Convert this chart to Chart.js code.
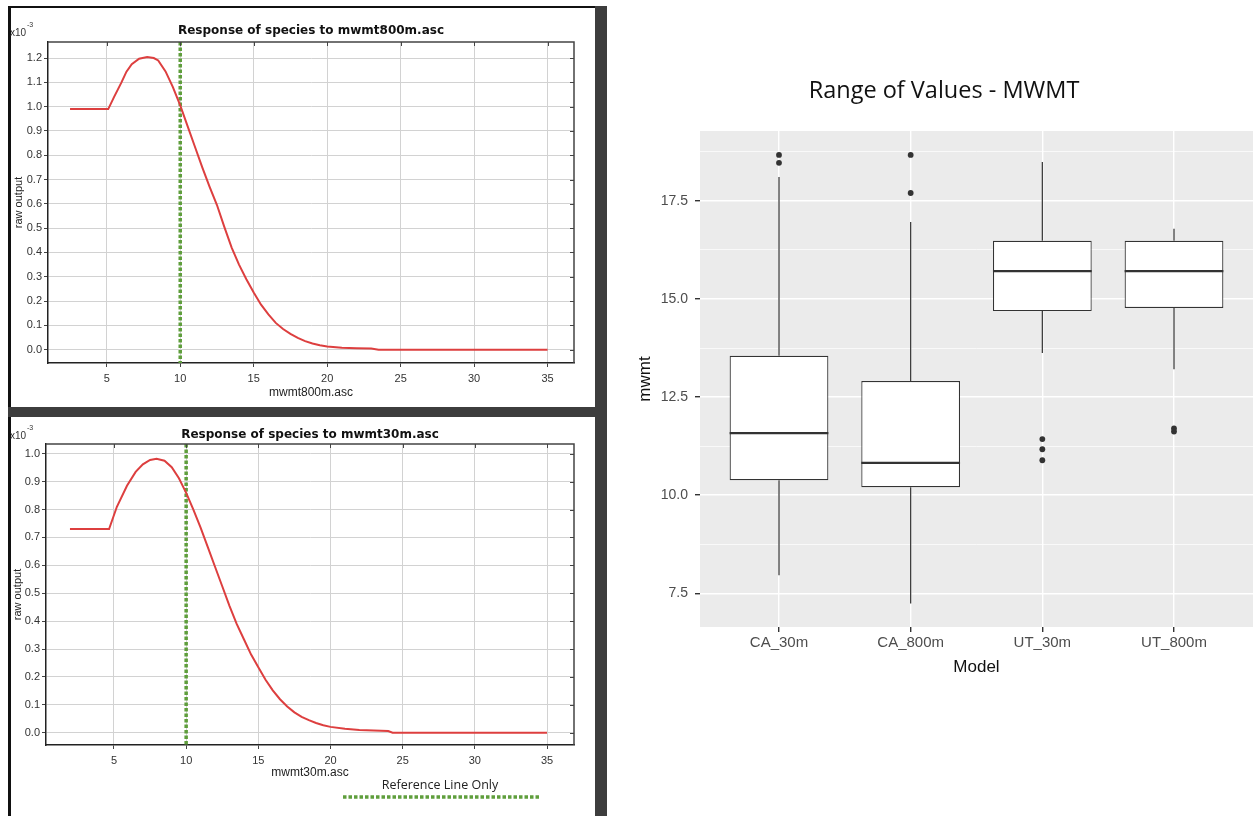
<!DOCTYPE html>
<html>
<head>
<meta charset="utf-8">
<script src="https://cdn.jsdelivr.net/npm/chart.js@4.4.0/dist/chart.umd.min.js"></script>
<style>
  body { margin: 0; width: 1257px; height: 816px; background: #fff; position: relative; overflow: hidden; font-family: "Liberation Sans", Arial, sans-serif; }
  canvas, .bar, .txt { position: absolute; }
  .bar { background: #3d3d3d; }
  .txt { color: #333; white-space: nowrap; line-height: 1; }
</style>
</head>
<body>
<div class="bar" style="left:8px;top:6px;width:588px;height:2px;background:#111"></div>
<div class="bar" style="left:8px;top:6px;width:2.5px;height:810px;background:#111"></div>
<div class="bar" style="left:8px;top:407px;width:588px;height:10px"></div>
<div class="bar" style="left:595px;top:6px;width:12px;height:810px"></div>

<canvas id="c800" width="585" height="398" style="left:10px;top:9px"></canvas>
<canvas id="c30" width="585" height="399" style="left:10px;top:417px"></canvas>
<canvas id="cbox" width="645" height="816" style="left:612px;top:0px"></canvas>

<span class="txt" style="left:10px;top:28px;font-size:10px">x10</span>
<span class="txt" style="left:27px;top:21px;font-size:7px">-3</span>
<span class="txt" style="left:10px;top:431px;font-size:10px">x10</span>
<span class="txt" style="left:27px;top:424px;font-size:7px">-3</span>

<script>
// ---- response curves (raw output, x10^-3) ----
const xTicks = [5, 10, 15, 20, 25, 30, 35];
const yTicks800 = [0, 0.1, 0.2, 0.3, 0.4, 0.5, 0.6, 0.7, 0.8, 0.9, 1.0, 1.1, 1.2];
const yTicks30 = [0, 0.1, 0.2, 0.3, 0.4, 0.5, 0.6, 0.7, 0.8, 0.9, 1.0];
const refLineX = 10;

const mwmt800X = [2.5, 5.1, 5.5, 6.0, 6.34, 6.7, 7.2, 7.75, 8.2, 8.5, 9.0, 9.5, 10, 10.5, 11, 11.5, 12, 12.5, 13, 13.5, 14, 14.5, 15, 15.5, 16, 16.5, 17, 17.5, 18, 18.5, 19, 19.5, 20, 21, 22, 23, 23.5, 35];
const mwmt800Y = [0.99, 0.99, 1.04, 1.10, 1.144, 1.175, 1.197, 1.204, 1.2, 1.19, 1.145, 1.08, 1.005, 0.92, 0.835, 0.75, 0.67, 0.595, 0.505, 0.42, 0.35, 0.29, 0.235, 0.185, 0.145, 0.11, 0.085, 0.065, 0.048, 0.035, 0.025, 0.018, 0.013, 0.008, 0.006, 0.005, 0.0, 0.0];

const mwmt30X = [1.95, 4.66, 5.2, 5.9, 6.5, 7.0, 7.5, 7.95, 8.5, 9.0, 9.5, 10, 10.5, 11, 11.5, 12, 12.5, 13, 13.5, 14, 14.5, 15, 15.5, 16, 16.5, 17, 17.5, 18, 18.5, 19, 19.5, 20, 21, 22, 23, 24, 24.3, 35];
const mwmt30Y = [0.73, 0.73, 0.81, 0.885, 0.935, 0.962, 0.978, 0.982, 0.975, 0.952, 0.912, 0.86, 0.80, 0.735, 0.665, 0.595, 0.525, 0.455, 0.39, 0.335, 0.28, 0.235, 0.19, 0.152, 0.12, 0.094, 0.073, 0.057, 0.045, 0.035, 0.027, 0.021, 0.014, 0.01, 0.008, 0.006, 0.0, 0.0];

// ---- boxplot of mwmt per model ----
const models = ['CA_30m', 'CA_800m', 'UT_30m', 'UT_800m'];
const boxQ1 = [10.38, 10.20, 14.69, 14.77];
const boxMedian = [11.58, 10.82, 15.71, 15.71];
const boxQ3 = [13.55, 12.91, 16.48, 16.48];
const whiskerLow = [7.96, 7.24, 13.62, 13.21];
const whiskerHigh = [18.11, 16.96, 18.49, 16.79];
const outliers = [[18.47, 18.67], [17.70, 18.67], [10.89, 11.17, 11.43], [11.62, 11.70]];
const boxMajorTicks = [7.5, 10, 12.5, 15, 17.5];
const boxMinorTicks = [8.75, 11.25, 13.75, 16.25, 18.75];

Chart.defaults.font.family = '"Liberation Sans", Arial, sans-serif';
Chart.defaults.animation = false;
Chart.defaults.events = [];

const GREEN = '#5f9e3c';

// reference line, top/right frame with inward ticks, optional legend
const framePlugin = {
  id: 'frame',
  beforeDatasetsDraw(chart, args, opts) {
    const a = chart.chartArea, ctx = chart.ctx;
    const x = chart.scales.x.getPixelForValue(opts.refX);
    ctx.save();
    ctx.strokeStyle = GREEN;
    ctx.lineWidth = 3.5;
    ctx.setLineDash([3.5, 2]);
    ctx.beginPath();
    ctx.moveTo(x, a.top);
    ctx.lineTo(x, a.bottom);
    ctx.stroke();
    ctx.restore();
  },
  afterDraw(chart, args, opts) {
    const a = chart.chartArea, ctx = chart.ctx;
    const sx = chart.scales.x, sy = chart.scales.y;
    ctx.save();
    ctx.strokeStyle = '#444';
    ctx.lineWidth = 1.5;
    ctx.beginPath();
    ctx.moveTo(a.left, a.top);
    ctx.lineTo(a.right, a.top);
    ctx.lineTo(a.right, a.bottom);
    ctx.stroke();
    ctx.lineWidth = 1;
    ctx.beginPath();
    sx.ticks.forEach(t => {
      const px = Math.round(sx.getPixelForValue(t.value)) + 0.5;
      ctx.moveTo(px, a.top);
      ctx.lineTo(px, a.top + 4);
    });
    sy.ticks.forEach(t => {
      const py = Math.round(sy.getPixelForValue(t.value)) + 0.5;
      ctx.moveTo(a.right, py);
      ctx.lineTo(a.right - 4, py);
    });
    ctx.stroke();
    if (opts.legendText) {
      ctx.fillStyle = '#222';
      ctx.font = '12.5px "Open Sans"';
      ctx.textAlign = 'center';
      ctx.textBaseline = 'middle';
      ctx.fillText(opts.legendText, 430, 368);
      ctx.strokeStyle = GREEN;
      ctx.lineWidth = 3.5;
      ctx.setLineDash([3.5, 2]);
      ctx.beginPath();
      ctx.moveTo(333, 380);
      ctx.lineTo(530, 380);
      ctx.stroke();
    }
    ctx.restore();
  }
};

function responseChart(id, title, xLabel, xs, ys, yTicks, lim, lay, legendText) {
  const pts = xs.map((x, i) => ({ x: x, y: ys[i] }));
  return new Chart(document.getElementById(id), {
    type: 'line',
    data: {
      datasets: [{
        data: pts,
        borderColor: '#dd3f3f',
        borderWidth: 2,
        pointRadius: 0,
        tension: 0
      }]
    },
    options: {
      responsive: false,
      layout: { padding: { left: 0, right: 21, top: 0, bottom: lay.bottom } },
      plugins: {
        legend: { display: false },
        tooltip: { enabled: false },
        title: {
          display: true, text: title, fullSize: false, color: '#111',
          font: { family: '"DejaVu Sans"', size: 12, weight: 'bold' },
          padding: lay.titlePad
        },
        frame: { refX: refLineX, legendText: legendText }
      },
      scales: {
        x: {
          type: 'linear', min: lim.xmin, max: lim.xmax,
          afterBuildTicks: s => { s.ticks = xTicks.map(v => ({ value: v })); },
          afterFit: s => { s.height = lay.xh; },
          grid: { color: '#d2d2d2', lineWidth: 1, tickLength: 4, tickColor: '#444' },
          border: { color: '#222', width: 1.5 },
          ticks: { color: '#333', font: { size: 11 }, padding: 5, maxRotation: 0, autoSkip: false },
          title: { display: true, text: xLabel, color: '#222', font: { size: 12 }, padding: { top: 0, bottom: lay.xtp } }
        },
        y: {
          type: 'linear', min: lim.ymin, max: lim.ymax,
          afterBuildTicks: s => { s.ticks = yTicks.map(v => ({ value: v })); },
          afterFit: s => { s.width = lay.yw; },
          grid: { color: '#d2d2d2', lineWidth: 1, tickLength: 4, tickColor: '#444' },
          border: { color: '#222', width: 1.5 },
          ticks: { color: '#333', font: { size: 11 }, padding: 2, autoSkip: false, callback: v => v.toFixed(1) },
          title: { display: true, text: 'raw output', color: '#222', font: { size: 11 }, padding: { top: lay.ytp, bottom: 0 } }
        }
      }
    },
    plugins: [framePlugin]
  });
}

responseChart('c800', 'Response of species to mwmt800m.asc', 'mwmt800m.asc',
  mwmt800X, mwmt800Y, yTicks800,
  { xmin: 1, xmax: 36.8, ymin: -0.055, ymax: 1.266 },
  { bottom: 0, titlePad: { top: 14.8, bottom: 3.8 }, xh: 44, xtp: 6.8, yw: 38, ytp: 2.4 },
  null);

responseChart('c30', 'Response of species to mwmt30m.asc', 'mwmt30m.asc',
  mwmt30X, mwmt30Y, yTicks30,
  { xmin: 0.29, xmax: 36.87, ymin: -0.044, ymax: 1.035 },
  { bottom: 36, titlePad: { top: 10.3, bottom: 2.3 }, xh: 35, xtp: 0, yw: 36, ytp: 1 },
  'Reference Line Only');

// ---- boxplot ----
const boxPlugin = {
  id: 'boxes',
  beforeDraw(chart) {
    const a = chart.chartArea, ctx = chart.ctx;
    ctx.save();
    ctx.fillStyle = '#ebebeb';
    ctx.fillRect(a.left, a.top, a.right - a.left, a.bottom - a.top);
    ctx.restore();
  },
  afterDatasetsDraw(chart) {
    const ctx = chart.ctx, sy = chart.scales.y;
    const meta = chart.getDatasetMeta(0);
    ctx.save();
    ctx.strokeStyle = '#333';
    meta.data.forEach((bar, i) => {
      const p = bar.getProps(['x', 'width'], true);
      const half = p.width / 2;
      ctx.lineWidth = 1.2;
      ctx.beginPath();
      ctx.moveTo(p.x, sy.getPixelForValue(boxQ3[i]));
      ctx.lineTo(p.x, sy.getPixelForValue(whiskerHigh[i]));
      ctx.moveTo(p.x, sy.getPixelForValue(boxQ1[i]));
      ctx.lineTo(p.x, sy.getPixelForValue(whiskerLow[i]));
      ctx.stroke();
      ctx.lineWidth = 2.3;
      ctx.beginPath();
      const ym = sy.getPixelForValue(boxMedian[i]);
      ctx.moveTo(p.x - half, ym);
      ctx.lineTo(p.x + half, ym);
      ctx.stroke();
    });
    ctx.restore();
  }
};

const boxTicks = boxMajorTicks.concat(boxMinorTicks).sort((a, b) => a - b);
const isMajor = v => boxMajorTicks.some(m => Math.abs(m - v) < 1e-6);
const outlierPts = [];
outliers.forEach((list, i) => list.forEach(v => outlierPts.push({ x: i + 1, y: v })));

new Chart(document.getElementById('cbox'), {
  type: 'bar',
  data: {
    datasets: [
      {
        type: 'bar',
        data: models.map((m, i) => ({ x: i + 1, y: [boxQ1[i], boxQ3[i]] })),
        backgroundColor: '#ffffff',
        borderColor: '#333',
        borderWidth: 1.2,
        borderSkipped: false,
        barPercentage: 0.75,
        categoryPercentage: 1
      },
      {
        type: 'scatter',
        data: outlierPts,
        pointRadius: 2.9,
        backgroundColor: '#333',
        borderWidth: 0
      }
    ]
  },
  options: {
    responsive: false,
    layout: { padding: { left: 21, right: 2, top: 0, bottom: 134 } },
    plugins: {
      legend: { display: false },
      tooltip: { enabled: false },
      title: {
        display: true, text: 'Range of Values - MWMT', color: '#111',
        font: { family: '"Open Sans"', size: 23.5, weight: 'normal' },
        padding: { top: 77.7, bottom: 25.1 }
      }
    },
    scales: {
      x: {
        type: 'linear', min: 0.4, max: 4.6, offset: false,
        afterBuildTicks: s => { s.ticks = models.map((m, i) => ({ value: i + 1 })); },
        afterFit: s => { s.height = 55; },
        grid: { offset: false, color: '#ffffff', lineWidth: 1.4, tickColor: '#333', tickLength: 5 },
        border: { display: false },
        ticks: { color: '#4d4d4d', font: { size: 15 }, padding: 2, maxRotation: 0, autoSkip: false,
          callback: v => models[Math.round(v) - 1] },
        title: { display: true, text: 'Model', color: '#111', font: { size: 17 }, padding: { top: 0, bottom: 4.8 } }
      },
      y: {
        type: 'linear', min: 6.64, max: 19.28, beginAtZero: false,
        afterBuildTicks: s => { s.ticks = boxTicks.map(v => ({ value: v })); },
        afterFit: s => { s.width = 67; },
        grid: {
          color: '#ffffff',
          lineWidth: c => (c.tick && isMajor(c.tick.value)) ? 1.4 : 0.7,
          tickColor: c => (c.tick && isMajor(c.tick.value)) ? '#333' : 'rgba(0,0,0,0)',
          tickLength: 5
        },
        border: { display: false },
        ticks: { color: '#4d4d4d', font: { size: 14 }, padding: 7, autoSkip: false,
          callback: v => isMajor(v) ? v.toFixed(1) : '' },
        title: { display: true, text: 'mwmt', color: '#111', font: { size: 17 }, padding: { top: 2, bottom: 0 } }
      }
    }
  },
  plugins: [boxPlugin]
});
</script>
</body>
</html>
